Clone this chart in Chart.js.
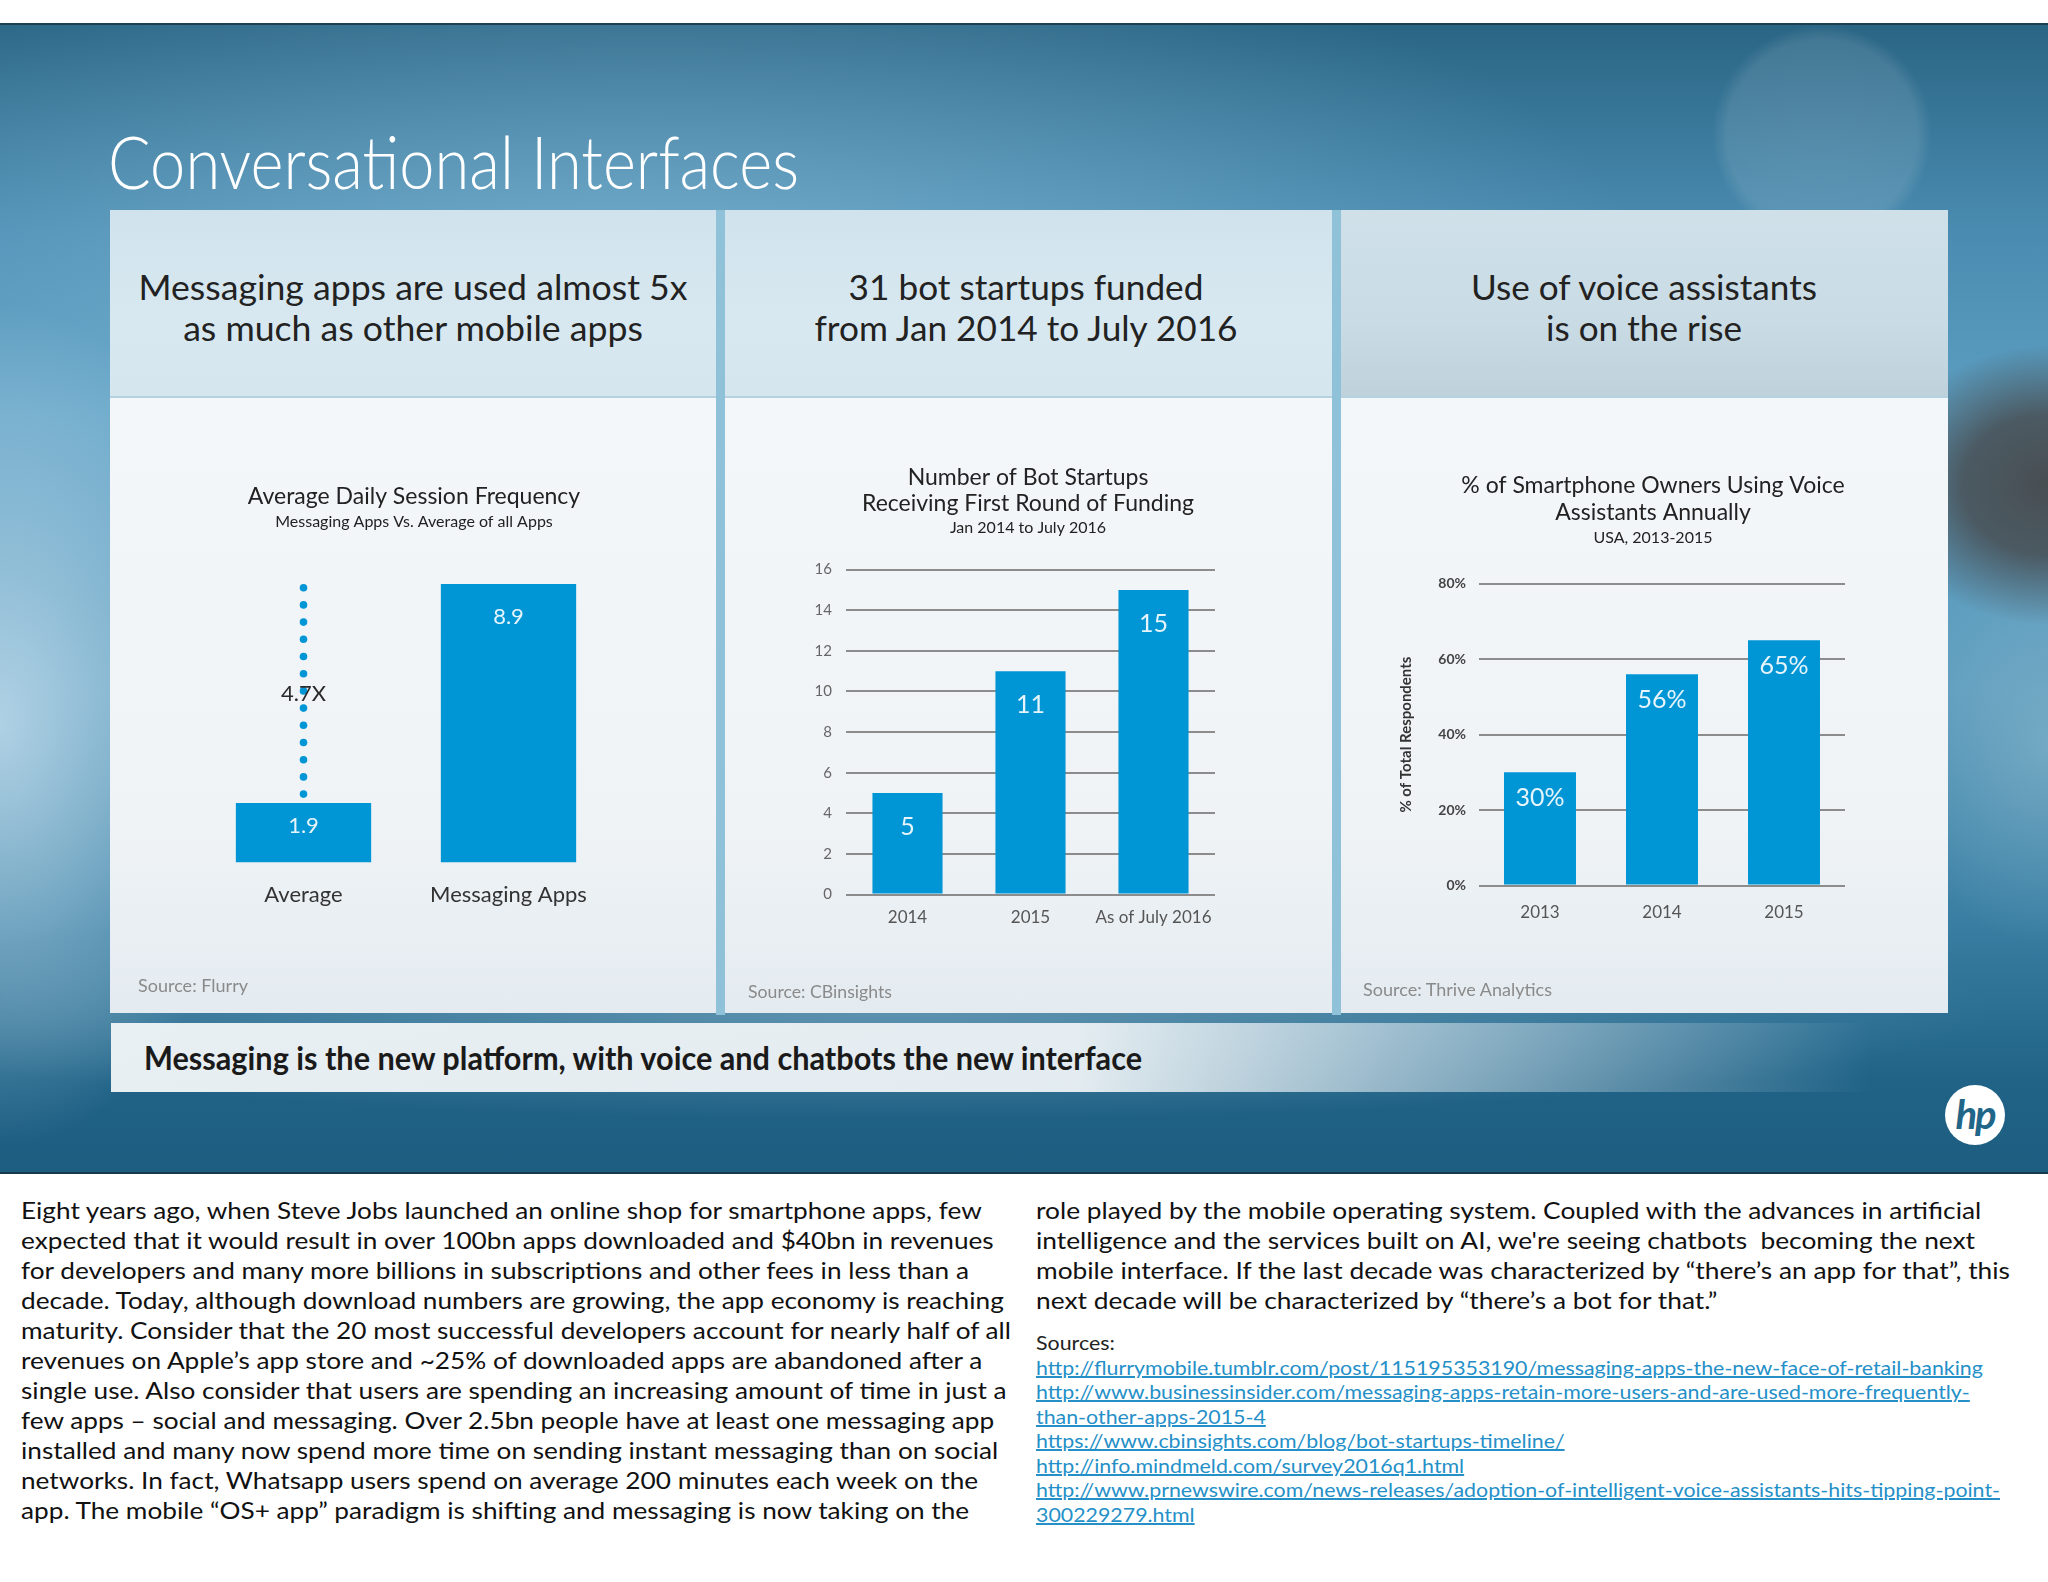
<!DOCTYPE html>
<html>
<head>
<meta charset="utf-8">
<title>Conversational Interfaces</title>
<script src="https://cdn.jsdelivr.net/npm/chart.js@4.4.1/dist/chart.umd.min.js"></script>
<style>
  html, body { margin: 0; padding: 0; width: 2048px; height: 1582px; overflow: hidden; background: #fff; font-family: Lato, "Open Sans", sans-serif; }
  .abs { position: absolute; }
  .slide {
    left: 0; top: 23px; width: 2048px; height: 1151px;
    border-top: 2px solid #1c3f52; border-bottom: 2px solid #163a4d; box-sizing: border-box;
    background:
      radial-gradient(circle at 1822px 110px, rgba(255,255,255,0.13) 0, rgba(255,255,255,0.11) 95px, rgba(255,255,255,0) 110px),
      radial-gradient(ellipse 170px 140px at 2048px 460px, rgba(72,78,82,1), rgba(72,78,82,0.85) 50%, rgba(72,78,82,0) 100%),
      radial-gradient(ellipse 160px 200px at 2048px 720px, rgba(140,185,205,0.55), rgba(140,185,205,0) 100%),
      radial-gradient(ellipse 1100px 110px at 900px 985px, rgba(190,215,230,0.35), rgba(190,215,230,0) 100%),
      radial-gradient(ellipse 260px 420px at 0px 700px, rgba(205,228,242,0.75), rgba(205,228,242,0) 100%),
      radial-gradient(ellipse 1000px 380px at 650px 260px, rgba(150,200,228,0.55), rgba(150,200,228,0) 100%),
      linear-gradient(180deg, #2a6584 0%, #4a8cb1 18%, #5d9fc2 34%, #5b9bbd 58%, #3a7fa3 78%, #206387 92%, #1d5d80 100%);
  }
  .gap { background: #8fc1d9; }
  .head {
    height: 188px;
    background: linear-gradient(180deg, #d0e3ed 0%, #d8e8f0 60%, #d6e6ee 100%);
    border-bottom: 2px solid #b5d2e1; box-sizing: border-box;
  }
  .head.dark { background: linear-gradient(180deg, #cfe0e9 0%, #c9dbe4 60%, #bfd1da 100%); }
  .body {
    height: 615px;
    background: linear-gradient(180deg, #f4f7f9 0%, #eff3f6 70%, #e4ebf0 100%);
  }
  .txt { white-space: nowrap; display: inline-block; }
  .mid { transform-origin: 50% 50%; text-align: center; }
  .lft { transform-origin: 0 50%; }
  .h1 { font-size: 72px; line-height: 72px; color: #fff; font-weight: 300; }
  .hd { font-size: 35px; line-height: 41px; color: #222; }
  .src { font-size: 18px; line-height: 18px; color: #8a8a8a; }
  .banner {
    left: 111px; top: 1023px; width: 1760px; height: 69px;
    background: linear-gradient(90deg, rgba(238,243,246,0.97) 0%, rgba(236,242,245,0.95) 55%, rgba(225,236,242,0.6) 72%, rgba(200,222,234,0) 100%);
  }
  .bn { font-size: 32px; line-height: 32px; color: #1a1a1a; font-weight: 700; }
  .logo { left: 1945px; top: 1085px; width: 60px; height: 60px; border-radius: 50%; background: #fff; text-align: center; font: italic 700 40px/58px Lato, sans-serif; color: #1f6688; letter-spacing: -2px; }
  .para { font-size: 23px; line-height: 30px; color: #111; }
  .refs { font-size: 20px; line-height: 24.5px; color: #222; }
  .refs a { color: #2590c8; text-decoration: underline; }
  canvas { position: absolute; }
</style>
</head>
<body>
<div class="abs slide"></div>

<div class="abs txt lft h1" style="left:108px; top:125px;" data-w="691">Conversational Interfaces</div>

<div class="abs gap" style="left:716px; top:210px; width:9px; height:805px;"></div>
<div class="abs gap" style="left:1332px; top:210px; width:9px; height:805px;"></div>

<div class="abs head" style="left:110px; top:210px; width:606px;"></div>
<div class="abs head" style="left:725px; top:210px; width:607px;"></div>
<div class="abs head dark" style="left:1341px; top:210px; width:607px;"></div>
<div class="abs body" style="left:110px; top:398px; width:606px;"></div>
<div class="abs body" style="left:725px; top:398px; width:607px;"></div>
<div class="abs body" style="left:1341px; top:398px; width:607px;"></div>

<div class="abs txt mid hd" style="left:413px; top:266px;" data-w="549">Messaging apps are used almost 5x<br>as much as other mobile apps</div>
<div class="abs txt mid hd" style="left:1026px; top:266px;" data-w="423">31 bot startups funded<br>from Jan 2014 to July 2016</div>
<div class="abs txt mid hd" style="left:1644px; top:266px;" data-w="346">Use of voice assistants<br>is on the rise</div>

<canvas id="sessions" width="606" height="615" style="left:110px; top:398px;"></canvas>
<canvas id="startups" width="608" height="615" style="left:724px; top:398px;"></canvas>
<canvas id="voice" width="607" height="615" style="left:1341px; top:398px;"></canvas>

<div class="abs txt lft src" style="left:138px; top:976px;" data-w="110">Source: Flurry</div>
<div class="abs txt lft src" style="left:748px; top:982px;" data-w="144">Source: CBinsights</div>
<div class="abs txt lft src" style="left:1363px; top:980px;" data-w="189">Source: Thrive Analytics</div>

<div class="abs banner"></div>
<div class="abs txt lft bn" style="left:144px; top:1042px;" data-w="998">Messaging is the new platform, with voice and chatbots the new interface</div>
<div class="abs logo">hp</div>

<div class="abs txt lft para" style="left:21px; top:1195px;" data-w="990">Eight years ago, when Steve Jobs launched an online shop for smartphone apps, few<br>expected that it would result in over 100bn apps downloaded and $40bn in revenues<br>for developers and many more billions in subscriptions and other fees in less than a<br>decade. Today, although download numbers are growing, the app economy is reaching<br>maturity. Consider that the 20 most successful developers account for nearly half of all<br>revenues on Apple’s app store and ~25% of downloaded apps are abandoned after a<br>single use. Also consider that users are spending an increasing amount of time in just a<br>few apps – social and messaging. Over 2.5bn people have at least one messaging app<br>installed and many now spend more time on sending instant messaging than on social<br>networks. In fact, Whatsapp users spend on average 200 minutes each week on the<br>app. The mobile “OS+ app” paradigm is shifting and messaging is now taking on the</div>

<div class="abs txt lft para" style="left:1036px; top:1195px;" data-w="974">role played by the mobile operating system. Coupled with the advances in artificial<br>intelligence and the services built on AI, we're seeing chatbots&nbsp; becoming the next<br>mobile interface. If the last decade was characterized by “there’s an app for that”, this<br>next decade will be characterized by “there’s a bot for that.”</div>

<div class="abs txt lft refs" style="left:1036px; top:1330px;" data-w="964">Sources:<br><a>http://flurrymobile.tumblr.com/post/115195353190/messaging-apps-the-new-face-of-retail-banking</a><br><a>http://www.businessinsider.com/messaging-apps-retain-more-users-and-are-used-more-frequently-</a><br><a>than-other-apps-2015-4</a><br><a>https://www.cbinsights.com/blog/bot-startups-timeline/</a><br><a>http://info.mindmeld.com/survey2016q1.html</a><br><a>http://www.prnewswire.com/news-releases/adoption-of-intelligent-voice-assistants-hits-tipping-point-</a><br><a>300229279.html</a></div>

<script>
// chart data
var sessionLabels = ['Average', 'Messaging Apps'];
var sessionValues = [1.9, 8.9];
var sessionMultiple = '4.7X';

var startupYears = ['2014', '2015', 'As of July 2016'];
var startupCounts = [5, 11, 15];

var voiceYears = ['2013', '2014', '2015'];
var voiceShares = [30, 56, 65];

var hpBlue = '#0096d6';
var fontFamily = 'Lato, "Open Sans", sans-serif';
Chart.defaults.font.family = fontFamily;

// squeeze html text to the widths
function fitText() {
    document.querySelectorAll('[data-w]').forEach(function (el) {
        var natural = el.getBoundingClientRect().width;
        var s = (+el.dataset.w) / natural;
        el.style.transform = (el.classList.contains('mid') ? 'translateX(-50%) ' : '') + 'scaleX(' + s + ')';
    });
}

// empty axis that only takes room, so the title sits where it does on the slide
function spacer(w) {
    return {
        position: 'right', display: true,
        afterFit: function (s) { s.width = w; },
        grid: { display: false, drawTicks: false },
        border: { display: false },
        ticks: { display: false }
    };
}

// value written inside the top of each bar
var valueLabels = {
    id: 'valueLabels',
    afterDatasetsDraw: function (chart, args, opts) {
        var ctx = chart.ctx;
        var meta = chart.getDatasetMeta(0);
        ctx.save();
        ctx.fillStyle = '#e6f4fb';
        ctx.font = opts.size + 'px ' + fontFamily;
        ctx.textAlign = 'center';
        ctx.textBaseline = 'middle';
        meta.data.forEach(function (bar, i) {
            var v = chart.data.datasets[0].data[i];
            var h = bar.base - bar.y;
            var dy = Math.min(opts.offset, h * 0.38);
            ctx.fillText(opts.format(v), bar.x, bar.y + dy);
        });
        ctx.restore();
    }
};

// dotted line showing the gap between the two bars
var gapDots = {
    id: 'gapDots',
    afterDatasetsDraw: function (chart) {
        var ctx = chart.ctx;
        var bars = chart.getDatasetMeta(0).data;
        var y = chart.scales.y;
        var x = bars[0].x;
        var bottom = bars[0].y - 9;
        var top = bars[1].y - 3;
        ctx.save();
        ctx.fillStyle = hpBlue;
        for (var yy = bottom; yy >= top; yy -= 17.2) {
            ctx.beginPath();
            ctx.arc(x, yy, 3.8, 0, Math.PI * 2);
            ctx.fill();
        }
        ctx.fillStyle = '#2a2a2a';
        ctx.font = '22px ' + fontFamily;
        ctx.textAlign = 'center';
        ctx.textBaseline = 'middle';
        var mid = y.getPixelForValue((sessionValues[0] + sessionValues[1]) / 2);
        ctx.fillText(sessionMultiple, x, mid);
        ctx.restore();
    }
};

new Chart('sessions', {
    type: 'bar',
    data: {
        labels: sessionLabels,
        datasets: [{
            data: sessionValues,
            backgroundColor: hpBlue,
            barPercentage: 0.66,
            categoryPercentage: 1
        }]
    },
    options: {
        responsive: false,
        animation: false,
        layout: { padding: { left: 91, right: 89, top: 0, bottom: 86 } },
        plugins: {
            legend: { display: false },
            tooltip: { enabled: false },
            title: { display: true, text: 'Average Daily Session Frequency', color: '#222', font: { size: 23, weight: 'normal' }, padding: { top: 85, bottom: 0 } },
            subtitle: { display: true, text: 'Messaging Apps Vs. Average of all Apps', color: '#222', font: { size: 16 }, padding: { top: 2, bottom: 49 } },
            valueLabels: { size: 22, offset: 33, format: function (v) { return v.toFixed(1); } }
        },
        scales: {
            x: { grid: { display: false, drawTicks: false }, border: { display: false }, ticks: { color: '#333', font: { size: 22 }, padding: 19 } },
            y: Object.assign(spacer(16), { min: 0, max: 9 })
        }
    },
    plugins: [valueLabels, gapDots]
});

new Chart('startups', {
    type: 'bar',
    data: {
        labels: startupYears,
        datasets: [{
            data: startupCounts,
            backgroundColor: hpBlue,
            barPercentage: 0.57,
            categoryPercentage: 1
        }]
    },
    options: {
        responsive: false,
        animation: false,
        layout: { padding: { left: 86, right: 86, top: 0, bottom: 72 } },
        plugins: {
            legend: { display: false },
            tooltip: { enabled: false },
            title: { display: true, text: ['Number of Bot Startups', 'Receiving First Round of Funding'], color: '#222', font: { size: 23, weight: 'normal', lineHeight: 1.13 }, padding: { top: 67, bottom: 0 } },
            subtitle: { display: true, text: 'Jan 2014 to July 2016', color: '#222', font: { size: 16 }, padding: { top: 1.4, bottom: 32 } },
            valueLabels: { size: 25, offset: 34, format: function (v) { return String(v); } }
        },
        scales: {
            x: { grid: { display: false, drawTicks: false }, border: { display: false }, ticks: { color: '#555', font: { size: 17 }, padding: 13 } },
            y: {
                min: 0, max: 16,
                afterFit: function (s) { s.width = 36; },
                grid: { color: '#8c8c8c', lineWidth: 2, drawTicks: false },
                border: { display: false },
                ticks: { stepSize: 2, color: '#666', font: { size: 15 }, padding: 14 }
            },
            pad: spacer(31)
        }
    },
    plugins: [valueLabels]
});

new Chart('voice', {
    type: 'bar',
    data: {
        labels: voiceYears,
        datasets: [{
            data: voiceShares,
            backgroundColor: hpBlue,
            barPercentage: 0.59,
            categoryPercentage: 1
        }]
    },
    options: {
        responsive: false,
        animation: false,
        layout: { padding: { left: 94, right: 77, top: 0, bottom: 73 } },
        plugins: {
            legend: { display: false },
            tooltip: { enabled: false },
            title: { display: true, text: ['% of Smartphone Owners Using Voice', 'Assistants Annually'], color: '#222', font: { size: 23, weight: 'normal', lineHeight: 1.174 }, padding: { top: 74.5, bottom: 0 } },
            subtitle: { display: true, text: 'USA, 2013-2015', color: '#222', font: { size: 16 }, padding: { top: 1.9, bottom: 36 } },
            valueLabels: { size: 25, offset: 26, format: function (v) { return v + '%'; } }
        },
        scales: {
            x: { grid: { display: false, drawTicks: false }, border: { display: false }, ticks: { color: '#555', font: { size: 17 }, padding: 17 } },
            y: {
                min: 0, max: 80,
                afterFit: function (s) { s.width = 44; },
                grid: { color: '#8c8c8c', lineWidth: 2, drawTicks: false },
                border: { display: false },
                title: { display: true, text: '% of Total Respondents', color: '#333', font: { size: 15, weight: 'bold' }, padding: { top: -38, bottom: 0 } },
                ticks: { stepSize: 20, color: '#444', font: { size: 14, weight: 'bold' }, padding: 13, callback: function (v) { return v + '%'; } }
            },
            pad: spacer(26)
        }
    },
    plugins: [valueLabels]
});

if (document.fonts && document.fonts.ready) {
    document.fonts.ready.then(fitText);
} else {
    fitText();
}
</script>
</body>
</html>
